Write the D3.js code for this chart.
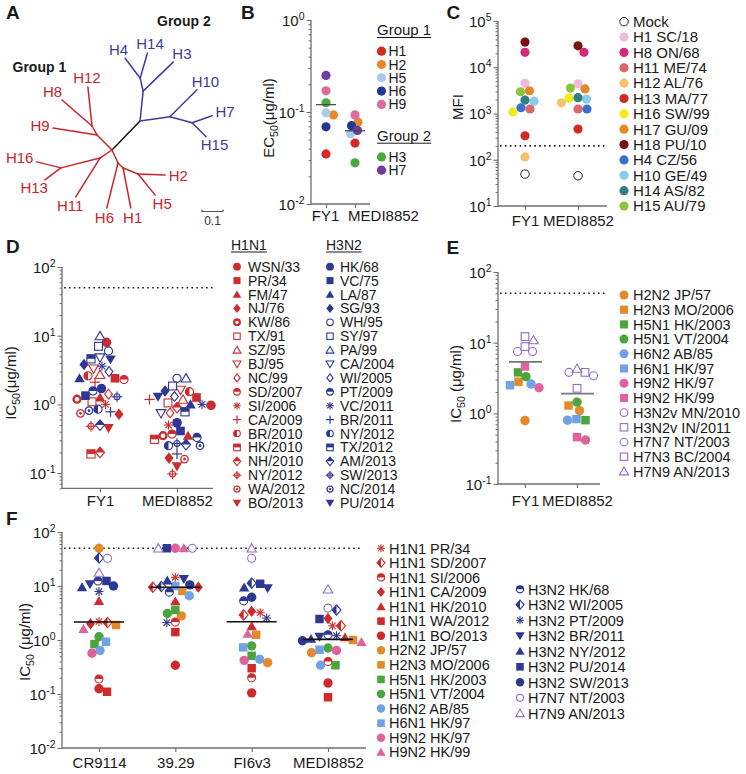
<!DOCTYPE html>
<html><head><meta charset="utf-8">
<script src="https://cdn.jsdelivr.net/npm/d3@7"></script>
<style>
body{margin:0;background:#fff}
svg text{font-family:"Liberation Sans",Arial,Helvetica,sans-serif;fill:#1a1a1a}
</style>
</head><body>
<svg id="c" width="746" height="774" xmlns="http://www.w3.org/2000/svg"></svg>
<script>
// ======================= DATA =======================
// A: phylogenetic tree (parent index, branch length, branch direction in degrees)
const treeNames  = ['', '', '', '', 'H4','H14','H3','', 'H10','', 'H7','H15','', '', 'H12','H8','H9','', '', 'H16','H13','H11','', 'H6','', 'H1','', 'H2','H5'];
const treeParent = [-1, 0, 1, 2, 3, 3, 2, 1, 7, 7, 9, 9, 0, 12, 13, 13, 12, 0, 17, 18, 18, 17, 0, 22, 22, 24, 24, 26, 26];
const treeLength = [0,0.192,0.143,0.063,0.119,0.124,0.199,0.144,0.182,0.109,0.101,0.094,0.101,0.049,0.187,0.189,0.212,0.069,0.192,0.118,0.095,0.218,0.068,0.221,0.034,0.194,0.077,0.129,0.129];
const treeAngle  = [0,46,84,103,127,74,44,8,45,-15,19,-45,135,119,96,139,171,214,194,166,217,238,295,256,315,281,338,358,309];
const treeGroup  = [1,0,2,2,2,2,2,2,2,2,2,2,1,1,1,1,1,1,1,1,1,1,1,1,1,1,1,1,1];
const treeScaleBar = 0.1;

// B: EC50
const bAntibodies = ['FY1','MEDI8852'];
const bSubtypes = ['H1','H2','H5','H6','H9','H3','H7'];
const bGroups = ['Group 1','Group 1','Group 1','Group 1','Group 1','Group 2','Group 2'];
const bFY1      = [0.035,0.093,0.098,0.069,0.17,0.126,0.25];
const bMEDI8852 = [0.046,0.078,0.058,0.071,0.093,0.028,0.063];
const bTicks = [0.01,0.1,1];

// C: MFI
const cAntibodies = ['FY1','MEDI8852'];
const cStrains = ['Mock','H1 SC/18','H8 ON/68','H11 ME/74','H12 AL/76','H13 MA/77','H16 SW/99','H17 GU/09','H18 PU/10','H4 CZ/56','H10 GE/49','H14 AS/82','H15 AU/79'];
const cFY1      = [49,4500,21000,1250,115,330,1080,3100,35000,1330,1850,1950,2950];
const cMEDI8852 = [45,4400,21000,1250,1700,460,2150,3400,29000,1250,2050,2200,3550];
const cCutoff = 200;
const cTicks = [10,100,1000,10000,100000];

// D: IC50 H1N1 / H3N2
const dAntibodies = ['FY1','MEDI8852'];
const dH1N1 = ['WSN/33','PR/34','FM/47','NJ/76','KW/86','TX/91','SZ/95','BJ/95','NC/99','SD/2007','SI/2006','CA/2009','BR/2010','HK/2010','NH/2010','NY/2012','WA/2012','BO/2013'];
const dH3N2 = ['HK/68','VC/75','LA/87','SG/93','WH/95','SY/97','PA/99','CA/2004','WI/2005','PT/2009','VC/2011','BR/2011','NY/2012','TX/2012','AM/2013','SW/2013','NC/2014','PU/2014'];
const dH1N1_FY1      = [8.0,2.4,1.26,0.72,1.19,1.09,2.7,3.3,1.41,2.3,1.0,2.1,2.6,0.19,0.2,0.48,0.74,0.45];
const dH1N1_MEDI8852 = [0.97,1.26,0.35,0.165,0.35,1.05,1.18,1.62,0.75,0.37,0.5,1.18,1.53,0.31,0.9,0.097,0.16,0.125];
const dH3N2_FY1      = [1.7,1.34,2.4,3.8,6.0,7.0,9.9,4.8,3.0,1.57,3.6,0.78,0.85,4.6,0.5,1.29,0.81,4.5];
const dH3N2_MEDI8852 = [0.54,0.41,1.0,1.57,2.4,1.85,2.4,0.74,1.3,0.33,1.0,0.19,0.25,0.78,0.26,0.27,0.25,1.29];
const dCutoff = 50;
const dTicks = [0.1,1,10,100];

// E: IC50 other subtypes
const eAntibodies = ['FY1','MEDI8852'];
const eStrains = ['H2N2 JP/57','H2N3 MO/2006','H5N1 HK/2003','H5N1 VT/2004','H6N2 AB/85','H6N1 HK/97','H9N2 HK/97','H9N2 HK/99','H3N2v MN/2010','H3N2v IN/2011','H7N7 NT/2003','H7N3 BC/2004','H7N9 AN/2013'];
const eFY1      = [0.79,2.8,3.8,3.3,2.6,2.5,2.3,4.6,7.5,12.2,7.5,8.8,10.9];
const eMEDI8852 = [1.09,1.29,0.8,1.44,0.8,0.83,0.42,0.46,3.4,3.8,3.8,2.26,4.3];
const eCutoff = 50;
const eTicks = [0.1,1,10,100];

// F: IC50 comparison of antibodies
const fAntibodies = ['CR9114','39.29','FI6v3','MEDI8852'];
const fStrains = ['H1N1 PR/34','H1N1 SD/2007','H1N1 SI/2006','H1N1 CA/2009','H1N1 HK/2010','H1N1 WA/2012','H1N1 BO/2013','H2N2 JP/57','H2N3 MO/2006','H5N1 HK/2003','H5N1 VT/2004','H6N2 AB/85','H6N1 HK/97','H9N2 HK/97','H9N2 HK/99','H3N2 HK/68','H3N2 WI/2005','H3N2 PT/2009','H3N2 BR/2011','H3N2 NY/2012','H3N2 PU/2014','H3N2 SW/2013','H7N7 NT/2003','H7N9 AN/2013'];
const fCR9114   = [2.2,2.1,0.19,2.0,5.3,0.11,0.125,50,1.9,0.84,1.15,0.64,0.93,0.57,1.6,12.4,33,7.9,10.8,9.5,12.4,10,32.6,17.7];
const f3929     = [14.5,9.5,2.15,9.5,5.2,1.4,0.34,2.8,8.1,3.6,3.1,6.6,10,50,50,7.7,9.8,2.1,13.5,12.7,50,10.5,50,50];
const fFI6v3    = [3.2,2.9,0.2,3.4,1.8,0.30,0.105,0.38,1.25,0.51,0.78,0.44,0.73,0.42,1.3,5.3,11.3,2.55,9.1,9.4,11,6.2,32.6,50];
const fMEDI8852 = [1.83,1.83,0.40,2.5,1.12,0.087,0.16,0.58,1.0,0.34,0.71,0.34,0.66,0.64,0.92,1.25,3.6,1.2,1.15,1.05,2.45,0.97,3.9,8.7];
const fCutoff = 50;
const fTicks = [0.01,0.1,1,10,100];
const fLegendSplit = 15;

// ======================= STYLE =======================
const AX = '#6e6e6e';
const RED='#cf2a2b', ORANGE='#e38b2c', GREEN='#4ba53f', LBLUE='#72a2e3', PINK='#e0629d', NAVY='#2d3892', PURPLE='#8f6fc4';
const TREE_RED='#c9252c', TREE_BLUE='#3c3c9b';
const bColors = ['#d42a27','#e5892b','#abc8ef','#25378f','#e06ba0','#4ca83e','#6c3d9c'];
const cColors = [null,'#f1b9da','#d3287c','#d96a6a','#f3c46c','#cf2b25','#eeea1c','#e2892a','#7b1013','#3b6fd0','#8ccbe7','#2f8080','#8dc43c'];
const dRed = '#cc2b2f', dBlue = '#2f3794';
const dShapesH1 = ['circle','square','triangle','diamond','ring','squareOpen','triangleOpen','triangleDownOpen','diamondOpen','circleTopHalf','asterisk','plus','circleLeftHalf','squareTopHalf','diamondTopHalf','circleCross','circleDot','triangleDown'];
const dShapesH3 = ['circle','square','triangle','diamond','circleOpen','squareOpen','triangleOpen','triangleDownOpen','diamondOpen','circleTopHalf','asterisk','plus','circleLeftHalf','squareTopHalf','diamondTopHalf','circleCross','circleDot','triangleDown'];
const eShapes = ['circle','square','square','circle','circle','square','circle','square','circleOpen','squareOpen','circleOpen','squareOpen','triangleOpen'];
const eColors = [ORANGE,ORANGE,GREEN,GREEN,LBLUE,LBLUE,PINK,PINK,PURPLE,PURPLE,PURPLE,PURPLE,PURPLE];
const fShapes = ['asterisk','diamondLeftHalf','circleTopHalf','diamond','triangle','square','circle','circle','square','square','circle','circle','square','circle','triangle','circleTopHalf','diamondLeftHalf','asterisk','triangleDown','triangle','square','circle','circleOpen','triangleOpen'];
const fColors = [RED,RED,RED,RED,RED,RED,RED,ORANGE,ORANGE,GREEN,GREEN,LBLUE,LBLUE,PINK,PINK,NAVY,NAVY,NAVY,NAVY,NAVY,NAVY,NAVY,PURPLE,PURPLE];

// ======================= HELPERS =======================
const svg = d3.select('#c');
svg.append('rect').attr('width',746).attr('height',774).attr('fill','#fff');

function txt(g, x, y, s, size, o = {}) {
  const t = g.append('text').attr('x', x).attr('y', y).attr('font-size', size).text(s);
  if (o.anchor) t.attr('text-anchor', o.anchor);
  if (o.weight) t.attr('font-weight', o.weight);
  if (o.fill) t.style('fill', o.fill);
  return t;
}

function marker(g, shape, color, r) {
  const W = '#fff', sw = 1.1;
  const tri = (s, down) => { const k = down ? -1 : 1; return `M0,${-k*s*1.05}L${s*1.1},${k*s*0.85}L${-s*1.1},${k*s*0.85}Z`; };
  const dia = s => `M0,${-s*1.2}L${s*0.95},0L0,${s*1.2}L${-s*0.95},0Z`;
  const line = (x1,y1,x2,y2,w) => g.append('line').attr('x1',x1).attr('y1',y1).attr('x2',x2).attr('y2',y2).attr('stroke',color).attr('stroke-width',w||sw);
  const a = r*0.85;
  switch (shape) {
    case 'circle': g.append('circle').attr('r', r).attr('fill', color); break;
    case 'square': { const s = r*0.9; g.append('rect').attr('x',-s).attr('y',-s).attr('width',2*s).attr('height',2*s).attr('fill',color); break; }
    case 'triangle': g.append('path').attr('d', tri(r,false)).attr('fill', color); break;
    case 'triangleDown': g.append('path').attr('d', tri(r,true)).attr('fill', color); break;
    case 'diamond': g.append('path').attr('d', dia(r)).attr('fill', color); break;
    case 'ring': g.append('circle').attr('r', r*0.72).attr('fill',W).attr('stroke',color).attr('stroke-width',2.3); break;
    case 'circleOpen': g.append('circle').attr('r', a).attr('fill',W).attr('stroke',color).attr('stroke-width',sw); break;
    case 'squareOpen': { const s = r*0.82; g.append('rect').attr('x',-s).attr('y',-s).attr('width',2*s).attr('height',2*s).attr('fill',W).attr('stroke',color).attr('stroke-width',sw); break; }
    case 'triangleOpen': g.append('path').attr('d', tri(r*0.92,false)).attr('fill',W).attr('stroke',color).attr('stroke-width',sw); break;
    case 'triangleDownOpen': g.append('path').attr('d', tri(r*0.92,true)).attr('fill',W).attr('stroke',color).attr('stroke-width',sw); break;
    case 'diamondOpen': g.append('path').attr('d', dia(r*0.85)).attr('fill',W).attr('stroke',color).attr('stroke-width',sw); break;
    case 'circleTopHalf':
      g.append('circle').attr('r', a).attr('fill',W).attr('stroke',color).attr('stroke-width',sw);
      g.append('path').attr('d', `M${-a},0A${a},${a} 0 0 1 ${a},0Z`).attr('fill',color); break;
    case 'circleLeftHalf':
      g.append('circle').attr('r', a).attr('fill',W).attr('stroke',color).attr('stroke-width',sw);
      g.append('path').attr('d', `M0,${-a}A${a},${a} 0 0 0 0,${a}Z`).attr('fill',color); break;
    case 'squareTopHalf': { const s = r*0.85;
      g.append('rect').attr('x',-s).attr('y',-s).attr('width',2*s).attr('height',2*s).attr('fill',W).attr('stroke',color).attr('stroke-width',sw);
      g.append('rect').attr('x',-s).attr('y',-s).attr('width',2*s).attr('height',s).attr('fill',color); break; }
    case 'diamondTopHalf': { const w = r*0.95, h = r*1.1;
      g.append('path').attr('d', `M0,${-h}L${w},0L0,${h}L${-w},0Z`).attr('fill',W).attr('stroke',color).attr('stroke-width',sw);
      g.append('path').attr('d', `M${-w},0L0,${-h}L${w},0Z`).attr('fill',color); break; }
    case 'diamondLeftHalf': { const w = r*0.95, h = r*1.1;
      g.append('path').attr('d', `M0,${-h}L${w},0L0,${h}L${-w},0Z`).attr('fill',W).attr('stroke',color).attr('stroke-width',sw);
      g.append('path').attr('d', `M0,${-h}L${-w},0L0,${h}Z`).attr('fill',color); break; }
    case 'asterisk': { const s = r*0.95, d = s*0.72;
      line(-s,0,s,0); line(0,-s,0,s); line(-d,-d,d,d); line(-d,d,d,-d); break; }
    case 'plus': { const s = r*1.05; line(-s,0,s,0,1.2); line(0,-s,0,s,1.2); break; }
    case 'circleCross': { const s = r*1.1;
      g.append('circle').attr('r', r*0.62).attr('fill',W).attr('stroke',color).attr('stroke-width',sw);
      line(-s,0,s,0); line(0,-s,0,s); break; }
    case 'circleDot':
      g.append('circle').attr('r', r*0.78).attr('fill',W).attr('stroke',color).attr('stroke-width',1.3);
      g.append('circle').attr('r', r*0.3).attr('fill',color); break;
    case 'mock': g.append('circle').attr('r', r*0.92).attr('fill',W).attr('stroke','#222').attr('stroke-width',1); break;
  }
}

function swarm(ys, cx, minD) {
  const order = d3.range(ys.length).sort((a, b) => ys[a] - ys[b]);
  const placed = [], xs = [];
  let flip = 1;
  order.forEach(i => {
    const y = ys[i];
    for (let s = 0; s < 300; s += 0.5) {
      const signs = s === 0 ? [1] : [flip, -flip];
      for (const sg of signs) {
        const x = cx + sg * s;
        if (placed.every(p => (p[0]-x)*(p[0]-x) + (p[1]-y)*(p[1]-y) >= minD*minD)) {
          xs[i] = x; placed.push([x, y]); if (s > 0) flip = -flip; return;
        }
      }
    }
  });
  return xs;
}

function logAxis(g, y, x0, majors) {
  const [d0, d1] = y.domain();
  const minors = [];
  for (let e = Math.floor(Math.log10(d0)); e <= Math.ceil(Math.log10(d1)); e++)
    for (let m = 2; m <= 9; m++) { const v = m * Math.pow(10, e); if (v >= d0*0.999 && v <= d1*1.001) minors.push(v); }
  const gm = g.append('g').attr('transform', `translate(${x0},0)`)
    .call(d3.axisLeft(y).tickValues(minors).tickSize(2.5).tickSizeOuter(0).tickFormat(''));
  gm.select('.domain').remove();
  gm.selectAll('text').remove();
  gm.selectAll('line').attr('stroke', AX);
  const ga = g.append('g').attr('transform', `translate(${x0},0)`)
    .call(d3.axisLeft(y).tickValues(majors).tickSize(4.5).tickSizeOuter(0).tickPadding(2).tickFormat(() => ''));
  ga.attr('font-family', null).attr('font-size', 15);
  ga.select('.domain').attr('stroke', AX).attr('stroke-width', 1.3).attr('d', `M0,${y.range()[0]}V${y.range()[1]}`);
  ga.selectAll('line').attr('stroke', AX).attr('stroke-width', 1.1);
  ga.selectAll('.tick text').each(function (d) {
    const t = d3.select(this).style('fill', '#1a1a1a').attr('dy', '0.36em');
    t.text('10');
    t.append('tspan').attr('dy', '-0.55em').attr('font-size', '10.5px').text(Math.round(Math.log10(d)));
  });
}

function catAxis(g, x, x0, x1, y0, baseline, labelX) {
  g.append('line').attr('x1', x0).attr('x2', x1).attr('y1', y0).attr('y2', y0).attr('stroke', AX).attr('stroke-width', 1.3);
  const pad = baseline - y0 - 4 - 10.65;
  const ga = g.append('g').attr('transform', `translate(0,${y0})`)
    .call(d3.axisBottom(x).tickSize(4).tickSizeOuter(0).tickPadding(pad));
  ga.attr('font-family', null).attr('font-size', 15);
  ga.select('.domain').remove();
  ga.selectAll('line').attr('stroke', AX).attr('stroke-width', 1.1);
  ga.selectAll('text').style('fill', '#1a1a1a');
  if (labelX) ga.selectAll('.tick text').each(function (d) {
    if (labelX[d] !== undefined) d3.select(this).attr('x', labelX[d] - x(d));
  });
}

function yTitle(g, x, y, main, sub, rest) {
  const t = g.append('text').attr('transform', `translate(${x},${y}) rotate(-90)`).attr('text-anchor', 'middle').attr('font-size', 15);
  t.append('tspan').text(main);
  if (sub) {
    t.append('tspan').attr('font-size', '10.5px').attr('dy', 4).text(sub);
    t.append('tspan').attr('dy', -4).text(rest);
  }
}

function cutoffLine(g, y, v, x0, x1) {
  g.append('line').attr('x1', x0).attr('x2', x1).attr('y1', y(v)).attr('y2', y(v))
    .attr('stroke', '#1a1a1a').attr('stroke-width', 1.6).attr('stroke-dasharray', '1.6,3.3');
}

function column(g, values, cx, y, minD, draw) {
  const ys = values.map(v => y(v));
  const xs = swarm(ys, cx, minD);
  values.forEach((v, i) => draw(g.append('g').attr('transform', `translate(${xs[i]},${ys[i]})`), i));
}

function panelLetter(x, y, s) { txt(svg, x, y, s, 19, { weight: 'bold' }); }

// ======================= PANEL A =======================
(function () {
  panelLetter(6, 18.5, 'A');
  const g = svg.append('g');
  const u = d3.scaleLinear().domain([0, treeScaleBar]).range([0, 21]);
  const root = [112, 150];
  const pos = [];
  treeParent.forEach((p, i) => {
    if (p < 0) { pos[i] = root.slice(); return; }
    const a = treeAngle[i] * Math.PI / 180, L = u(treeLength[i]);
    pos[i] = [pos[p][0] + L * Math.cos(a), pos[p][1] - L * Math.sin(a)];
  });
  const col = k => k === 0 ? '#111' : (k === 2 ? TREE_BLUE : TREE_RED);
  treeParent.forEach((p, i) => {
    if (p < 0) return;
    g.append('line').attr('x1', pos[p][0]).attr('y1', pos[p][1]).attr('x2', pos[i][0]).attr('y2', pos[i][1])
      .attr('stroke', col(treeGroup[i])).attr('stroke-width', 1.5).attr('stroke-linecap', 'round');
  });
  treeNames.forEach((n, i) => {
    if (!n) return;
    const p = treeParent[i];
    const dx = pos[i][0] - pos[p][0], dy = pos[i][1] - pos[p][1];
    const L = Math.hypot(dx, dy), ux = dx / L, uy = dy / L;
    const t = txt(g, 0, 0, n, 15, { anchor: 'middle', fill: col(treeGroup[i]) });
    const w = t.node().getComputedTextLength(), h = 12;
    const k = Math.min(Math.abs(ux) > 1e-6 ? (w / 2) / Math.abs(ux) : 1e9, Math.abs(uy) > 1e-6 ? (h / 2) / Math.abs(uy) : 1e9) + 3.5;
    t.attr('x', pos[i][0] + ux * k).attr('y', pos[i][1] + uy * k + 5.3);
  });
  txt(g, 12.5, 72, 'Group 1', 14, { weight: 'bold' });
  txt(g, 157, 26, 'Group 2', 14, { weight: 'bold' });
  const x0 = 202, yb = 211.5;
  g.append('path').attr('d', `M${x0},${yb - 2}V${yb}H${x0 + u(treeScaleBar)}V${yb - 2}`).attr('fill', 'none').attr('stroke', '#555').attr('stroke-width', 1.2);
  txt(g, x0 + u(treeScaleBar) / 2, 225, String(treeScaleBar), 12, { anchor: 'middle', fill: '#333' });
})();

// ======================= PANEL B =======================
(function () {
  panelLetter(241, 18.5, 'B');
  const g = svg.append('g');
  const y = d3.scaleLog().domain([0.01, 1]).range([204, 20]);
  const x = d3.scalePoint().domain(bAntibodies).range([326, 355]);
  logAxis(g, y, 311, bTicks);
  catAxis(g, x, 311, 370, 204, 221, { FY1: 325, MEDI8852: 383 });
  yTitle(g, 274, 118, 'EC', '50', '(μg/ml)');
  [bFY1, bMEDI8852].forEach((vals, k) => {
    const cx = x(bAntibodies[k]);
    column(g, vals, cx, y, 7.5, (m, i) => m.append('circle').attr('r', 4.6).attr('fill', bColors[i]));
    const mu = d3.mean(vals);
    g.append('line').attr('x1', cx - 10).attr('x2', cx + 10).attr('y1', y(mu)).attr('y2', y(mu)).attr('stroke', '#444').attr('stroke-width', 1.2);
  });
  // legend
  const groups = Array.from(new Set(bGroups));
  let yy = 35;
  groups.forEach((gr) => {
    const t = txt(g, 377, yy, gr, 15);
    const w = t.node().getComputedTextLength();
    g.append('line').attr('x1', 377).attr('x2', 377 + w).attr('y1', yy + 2.5).attr('y2', yy + 2.5).attr('stroke', '#1a1a1a').attr('stroke-width', 1);
    yy += 16.2;
    bSubtypes.forEach((s, i) => {
      if (bGroups[i] !== gr) return;
      g.append('circle').attr('cx', 381.5).attr('cy', yy).attr('r', 4.6).attr('fill', bColors[i]);
      txt(g, 388.5, yy + 5, s, 14);
      yy += 13.3;
    });
    yy += 23;
  });
})();

// ======================= PANEL C =======================
(function () {
  panelLetter(446.5, 18.5, 'C');
  const g = svg.append('g');
  const y = d3.scaleLog().domain([10, 1e5]).range([206, 21]);
  const x = d3.scalePoint().domain(cAntibodies).range([525, 578]);
  logAxis(g, y, 498, cTicks);
  catAxis(g, x, 498, 607, 206, 226);
  yTitle(g, 463, 107, 'MFI');
  cutoffLine(g, y, cCutoff, 500, 605);
  [cFY1, cMEDI8852].forEach((vals, k) => {
    column(g, vals, x(cAntibodies[k]), y, 8.6, (m, i) => {
      if (i === 0) marker(m, 'mock', '#222', 4.6); else m.append('circle').attr('r', 4.6).attr('fill', cColors[i]);
    });
  });
  cStrains.forEach((s, i) => {
    const yy = 21.7 + i * 15.36;
    const m = g.append('g').attr('transform', `translate(624,${yy})`);
    if (i === 0) marker(m, 'mock', '#222', 4.6); else m.append('circle').attr('r', 4.6).attr('fill', cColors[i]);
    txt(g, 633, yy + 5.3, s, 15);
  });
})();

// ======================= PANEL D =======================
(function () {
  panelLetter(6, 253, 'D');
  const g = svg.append('g');
  const y = d3.scaleLog().domain([0.06, 100]).range([488.3, 267]);
  const x = d3.scalePoint().domain(dAntibodies).range([100, 177]);
  logAxis(g, y, 62, dTicks);
  catAxis(g, x, 62, 213, 488.3, 506);
  yTitle(g, 16, 383, 'IC', '50', '(μg/ml)');
  cutoffLine(g, y, dCutoff, 64, 213);
  const cols = [[dH1N1_FY1, dH3N2_FY1], [dH1N1_MEDI8852, dH3N2_MEDI8852]];
  cols.forEach((pair, k) => {
    const vals = pair[0].concat(pair[1]);
    column(g, vals, x(dAntibodies[k]), y, 8.8, (m, i) => {
      const h1 = i < dH1N1.length;
      const j = h1 ? i : i - dH1N1.length;
      marker(m, h1 ? dShapesH1[j] : dShapesH3[j], h1 ? dRed : dBlue, 4.8);
    });
  });
  // legend
  [[dH1N1, 'H1N1', dShapesH1, dRed, 231, 237, 248], [dH3N2, 'H3N2', dShapesH3, dBlue, 326, 330, 340]].forEach(([names, head, shapes, color, hx, sx, tx]) => {
    const t = txt(g, hx, 249.5, head, 14);
    const w = t.node().getComputedTextLength();
    g.append('line').attr('x1', hx).attr('x2', hx + w).attr('y1', 252).attr('y2', 252).attr('stroke', '#1a1a1a').attr('stroke-width', 1);
    names.forEach((n, i) => {
      const yy = 266.7 + i * 13.9;
      marker(g.append('g').attr('transform', `translate(${sx},${yy})`), shapes[i], color, 3.9);
      txt(g, tx, yy + 5, n, 14);
    });
  });
})();

// ======================= PANEL E =======================
(function () {
  panelLetter(446.5, 254, 'E');
  const g = svg.append('g');
  const y = d3.scaleLog().domain([0.1, 100]).range([484, 272]);
  const x = d3.scalePoint().domain(eAntibodies).range([525, 577]);
  logAxis(g, y, 498, eTicks);
  catAxis(g, x, 498, 600, 484, 506);
  yTitle(g, 461, 384, 'IC', '50', ' (μg/ml)');
  cutoffLine(g, y, eCutoff, 500, 607);
  [eFY1, eMEDI8852].forEach((vals, k) => {
    const cx = x(eAntibodies[k]);
    column(g, vals, cx, y, 8.8, (m, i) => marker(m, eShapes[i], eColors[i], 4.7));
    const mu = d3.mean(vals);
    g.append('line').attr('x1', cx - 16).attr('x2', cx + 17).attr('y1', y(mu)).attr('y2', y(mu)).attr('stroke', '#777').attr('stroke-width', 1.6);
  });
  eStrains.forEach((s, i) => {
    const yy = 295 + i * 14.7;
    marker(g.append('g').attr('transform', `translate(624,${yy})`), eShapes[i], eColors[i], 4.5);
    txt(g, 633, yy + 5.2, s, 14.5);
  });
})();

// ======================= PANEL F =======================
(function () {
  panelLetter(6, 525, 'F');
  const g = svg.append('g');
  const y = d3.scaleLog().domain([0.01, 100]).range([748, 532]);
  const x = d3.scalePoint().domain(fAntibodies).range([99, 328]);
  logAxis(g, y, 62, fTicks);
  catAxis(g, x, 62, 366, 748, 768);
  yTitle(g, 30, 642, 'IC', '50', ' (μg/ml)');
  cutoffLine(g, y, fCutoff, 64, 362);
  [fCR9114, f3929, fFI6v3, fMEDI8852].forEach((vals, k) => {
    const cx = x(fAntibodies[k]);
    column(g, vals, cx, y, 8.4, (m, i) => marker(m, fShapes[i], fColors[i], 4.7));
    const md = d3.median(vals);
    g.append('line').attr('x1', cx - 25).attr('x2', cx + 25).attr('y1', y(md)).attr('y2', y(md)).attr('stroke', '#111').attr('stroke-width', 1.6);
  });
  fStrains.forEach((s, i) => {
    const c2 = i >= fLegendSplit;
    const yy = c2 ? 589.3 + (i - fLegendSplit) * 15.5 : 548.3 + i * 14.57;
    const sx = c2 ? 520 : 381, tx = c2 ? 528 : 389;
    marker(g.append('g').attr('transform', `translate(${sx},${yy})`), fShapes[i], fColors[i], 4.2);
    txt(g, tx, yy + 5.2, s, 14.5);
  });
})();
</script>
</body></html>
